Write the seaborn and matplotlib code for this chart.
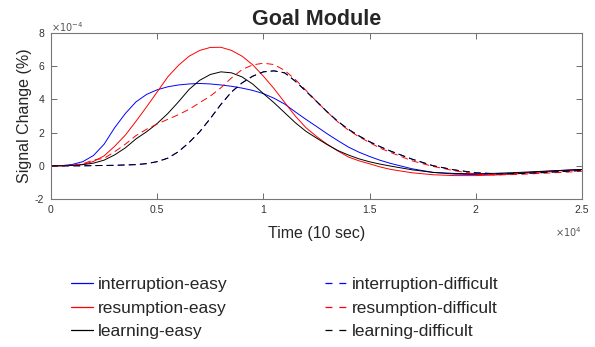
import matplotlib
matplotlib.use("Agg")
import matplotlib.pyplot as plt
import seaborn as sns

# time axis in units of 1e4, signal in units of 1e-4
time = [0.0, 0.05, 0.1, 0.15, 0.2, 0.25, 0.3, 0.35, 0.4, 0.45, 0.5, 0.55, 0.6, 0.65,
        0.7, 0.75, 0.8, 0.85, 0.9, 0.95, 1.0, 1.05, 1.1, 1.15, 1.2, 1.25, 1.3, 1.35,
        1.4, 1.45, 1.5, 1.55, 1.6, 1.7, 1.8, 1.9, 2.0, 2.1, 2.2, 2.3, 2.4, 2.5]

interruption_easy = [0.0, 0.01, 0.08, 0.25, 0.62, 1.3, 2.3, 3.15, 3.85, 4.3, 4.58, 4.76, 4.87, 4.93,
                     4.96, 4.93, 4.87, 4.79, 4.68, 4.54, 4.35, 4.07, 3.72, 3.25, 2.8, 2.37, 1.93, 1.52,
                     1.13, 0.82, 0.56, 0.33, 0.14, -0.18, -0.4, -0.5, -0.53, -0.5, -0.44, -0.36, -0.28, -0.22]
resumption_easy = [0.0, 0.0, 0.03, 0.09, 0.26, 0.6, 1.18, 1.85, 2.68, 3.55, 4.45, 5.36, 6.05, 6.6,
                   6.95, 7.13, 7.14, 6.95, 6.6, 6.08, 5.4, 4.65, 3.82, 3.0, 2.3, 1.77, 1.3, 0.9,
                   0.53, 0.3, 0.12, -0.07, -0.22, -0.42, -0.54, -0.59, -0.59, -0.55, -0.47, -0.38, -0.3, -0.23]
learning_easy = [0.0, 0.0, 0.02, 0.07, 0.16, 0.34, 0.66, 1.08, 1.62, 2.05, 2.55, 3.15, 3.85, 4.6,
                 5.15, 5.5, 5.66, 5.6, 5.35, 4.92, 4.35, 3.8, 3.2, 2.6, 2.08, 1.67, 1.28, 0.92,
                 0.65, 0.42, 0.24, 0.1, -0.02, -0.24, -0.4, -0.46, -0.48, -0.45, -0.4, -0.34, -0.28, -0.22]
interruption_difficult = [0.0, 0.0, 0.0, 0.0, 0.01, 0.02, 0.03, 0.05, 0.07, 0.13, 0.25, 0.46, 0.85, 1.4,
                          2.05, 2.85, 3.7, 4.45, 5.0, 5.4, 5.66, 5.72, 5.6, 5.1, 4.5, 3.88, 3.25, 2.68,
                          2.2, 1.8, 1.45, 1.15, 0.88, 0.4, 0.0, -0.25, -0.42, -0.48, -0.47, -0.42, -0.35, -0.28]
resumption_difficult = [0.0, 0.0, 0.03, 0.12, 0.35, 0.45, 0.85, 1.3, 1.82, 2.2, 2.52, 2.8, 3.08, 3.4,
                        3.8, 4.2, 4.7, 5.3, 5.8, 6.08, 6.18, 6.1, 5.75, 5.2, 4.55, 3.88, 3.25, 2.65,
                        2.15, 1.75, 1.4, 1.06, 0.8, 0.3, -0.04, -0.3, -0.5, -0.55, -0.52, -0.46, -0.4, -0.33]
learning_difficult = [0.0, 0.0, 0.0, 0.0, 0.01, 0.02, 0.03, 0.05, 0.07, 0.13, 0.25, 0.46, 0.85, 1.4,
                      2.05, 2.85, 3.7, 4.45, 5.0, 5.4, 5.66, 5.72, 5.6, 5.1, 4.5, 3.88, 3.25, 2.68,
                      2.2, 1.8, 1.45, 1.15, 0.88, 0.4, 0.0, -0.25, -0.42, -0.48, -0.47, -0.42, -0.35, -0.28]

labels = ["interruption-easy", "resumption-easy", "learning-easy",
          "interruption-difficult", "resumption-difficult", "learning-difficult"]
series = [interruption_easy, resumption_easy, learning_easy,
          interruption_difficult, resumption_difficult, learning_difficult]
colors = ["#0000ff", "#ff0000", "#000000", "#0000ff", "#ff0000", "#000000"]
styles = ["-", "-", "-", "--", "--", "--"]

x_ticks = [0, 0.5, 1, 1.5, 2, 2.5]
y_ticks = [-2, 0, 2, 4, 6, 8]

sns.set_theme(style="white")
plt.rcParams["font.family"] = ["Liberation Sans", "DejaVu Sans"]
plt.rcParams["lines.scale_dashes"] = False

fig = plt.figure(figsize=(5.95, 3.47), dpi=100)
ax = fig.add_axes([51 / 595, 1 - 199 / 347, 531 / 595, 166 / 347])

leg_handles = []
for vals, lab, col, ls in zip(series, labels, colors, styles):
    sns.lineplot(x=time, y=vals, color=col, linewidth=0.7, ax=ax, label=lab)
    proxy = plt.Line2D([], [], color=col, linewidth=0.9)
    if ls == "--":
        ax.lines[-1].set_dashes((5, 3))
        proxy.set_dashes((5, 5))
    leg_handles.append(proxy)

ax.get_legend().remove()
ax.set_xlim(0, 2.5)
ax.set_ylim(-2, 8)
ax.set_xticks(x_ticks)
ax.set_yticks(y_ticks)
ax.set_xticklabels([f"{v:g}" for v in x_ticks])
ax.set_yticklabels([f"{v:g}" for v in y_ticks])
ax.tick_params(direction="in", length=4, width=0.6, color="#555555",
               labelsize=7.5, labelcolor="#333333", top=True, right=True,
               bottom=True, left=True)
ax.tick_params(axis="x", pad=4)
ax.tick_params(axis="y", pad=5)
for sp in ax.spines.values():
    sp.set_color("#777777")
    sp.set_linewidth(0.8)

ax.set_title("Goal Module", fontsize=15.5, fontweight="bold", pad=6)
ax.set_xlabel("Time (10 sec)", fontsize=11.5, color="#262626", labelpad=8)
ax.set_ylabel("Signal Change (%)", fontsize=11.5, color="#262626", labelpad=2)

ax.text(0.0, 0.995, r"$\times10^{-4}$", transform=ax.transAxes, fontsize=7,
        color="#555555", ha="left", va="bottom")
ax.text(1.0, -0.16, r"$\times10^{4}$", transform=ax.transAxes, fontsize=7,
        color="#555555", ha="right", va="top")

fig.legend(leg_handles, labels, loc="center", bbox_to_anchor=(0.479, 1 - 308 / 347),
           ncol=2, frameon=False, fontsize=12.5, handlelength=1.25,
           handletextpad=0.3, columnspacing=5.6, labelspacing=0.5)

fig.savefig("out.png", dpi=100, facecolor="white")
